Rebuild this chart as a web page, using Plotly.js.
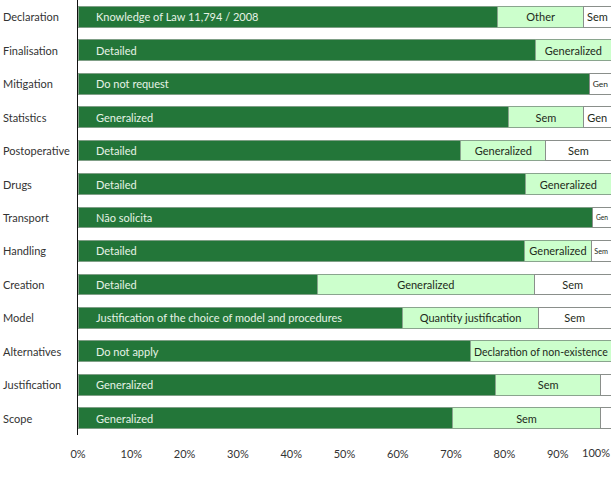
<!DOCTYPE html>
<html>
<head>
<meta charset="utf-8">
<script src="https://cdn.plot.ly/plotly-3.0.1.min.js"></script>
<style>
  html, body { margin: 0; padding: 0; background: #ffffff; }
  #chart { width: 616px; height: 487px; }
</style>
</head>
<body>
<div id="chart"></div>
<script>
// Stages of the assessment, top to bottom
const categories = [
  "Declaration", "Finalisation", "Mitigation", "Statistics", "Postoperative",
  "Drugs", "Transport", "Handling", "Creation", "Model",
  "Alternatives", "Justification", "Scope"
];

// First (dark) segment of each bar, in percent
const seg1Values = [78.7, 85.9, 96.0, 80.8, 71.8, 84.0, 96.6, 83.8, 44.9, 60.9, 73.7, 78.4, 70.3];
const seg1Labels = [
  "Knowledge of Law 11,794 / 2008", "Detailed", "Do not request", "Generalized", "Detailed",
  "Detailed", "Não solicita", "Detailed", "Detailed",
  "Justification of the choice of model and procedures", "Do not apply", "Generalized", "Generalized"
];

// Second (light) segment
const seg2Values = [16.2, 14.1, 0, 14.0, 16.0, 16.0, 0, 12.5, 40.7, 25.5, 26.3, 19.6, 27.7];
const seg2Labels = [
  "Other", "Generalized", "", "Sem", "Generalized",
  "Generalized", "", "Generalized", "Generalized",
  "Quantity justification", "Declaration of non-existence", "Sem", "Sem"
];

// Third (white) segment
const seg3Values = [5.1, 0, 4.0, 5.2, 12.2, 0, 3.4, 3.7, 14.4, 13.6, 0, 2.0, 2.0];
const seg3Labels = ["Sem", "", "Gen", "Gen", "Sem", "", "Gen", "Sem", "Sem", "Sem", "", "", ""];

// Tick labels of the percentage axis
const tickValues = [0, 10, 20, 30, 40, 50, 60, 70, 80, 90];
const tickLabels = ["0%", "10%", "20%", "30%", "40%", "50%", "60%", "70%", "80%", "90%"];
const lastTickLabel = "100%";

const FONT = "Lato, 'Open Sans', sans-serif";
const DARK = "#237639";
const LIGHT = "#ccffcc";

const traces = [
  {
    type: "bar", orientation: "h", y: categories, x: seg1Values,
    marker: { color: DARK, line: { color: "#7f9f86", width: 1 } },
    hoverinfo: "skip"
  },
  {
    type: "bar", orientation: "h", y: categories, x: seg2Values,
    text: seg2Labels, textposition: "inside", insidetextanchor: "middle", textangle: 0,
    textfont: { family: FONT, size: 11, color: "#1e2a20" },
    marker: { color: LIGHT, line: { color: "#8aa58e", width: 1 } },
    hoverinfo: "skip"
  },
  {
    type: "bar", orientation: "h", y: categories, x: seg3Values,
    text: seg3Labels, textposition: "inside", insidetextanchor: "middle", textangle: 0,
    textfont: { family: FONT, size: 11, color: "#1e2a20" },
    marker: { color: "#ffffff", line: { color: "#8a8f8b", width: 1 } },
    hoverinfo: "skip"
  }
];

const annotations = [];

// Labels of the dark segments, starting near the left of each bar
categories.forEach((c, i) => {
  annotations.push({
    x: 0, y: c, xref: "x", yref: "y",
    text: seg1Labels[i], showarrow: false,
    xanchor: "left", yanchor: "middle", xshift: 16,
    font: { family: FONT, size: 11, color: "#e6f3e6" }
  });
});

// Row labels, left aligned at the page edge
categories.forEach((c) => {
  annotations.push({
    x: 0, y: c, xref: "paper", yref: "y",
    text: c, showarrow: false,
    xanchor: "left", yanchor: "middle", xshift: -77, yshift: 0,
    font: { family: FONT, size: 11, color: "#333333" }
  });
});

// Final tick label, kept inside the page
annotations.push({
  x: 1, y: 0, xref: "paper", yref: "paper",
  text: lastTickLabel, showarrow: false,
  xanchor: "right", yanchor: "middle", xshift: 1, yshift: -17,
  font: { family: FONT, size: 11, color: "#333333" }
});

const layout = {
  width: 616, height: 487,
  margin: { l: 78, r: 5, t: 0, b: 52, pad: 0 },
  barmode: "stack",
  bargap: 0.38,
  showlegend: false,
  paper_bgcolor: "#ffffff",
  plot_bgcolor: "#ffffff",
  font: { family: FONT, size: 11, color: "#333333" },
  xaxis: {
    range: [0, 100],
    tickvals: tickValues, ticktext: tickLabels,
    ticks: "outside", ticklen: 9, tickcolor: "rgba(0,0,0,0)",
    showgrid: false, zeroline: false, showline: false,
    tickfont: { family: FONT, size: 11, color: "#333333" },
    fixedrange: true
  },
  yaxis: {
    type: "category",
    categoryorder: "array", categoryarray: categories,
    autorange: "reversed",
    showticklabels: false, ticks: "",
    showgrid: false, zeroline: false,
    showline: true, linecolor: "#111111", linewidth: 1.5,
    fixedrange: true
  },
  uniformtext: { mode: false },
  annotations: annotations
};

Plotly.newPlot("chart", traces, layout, { displayModeBar: false, staticPlot: true });
</script>
</body>
</html>
